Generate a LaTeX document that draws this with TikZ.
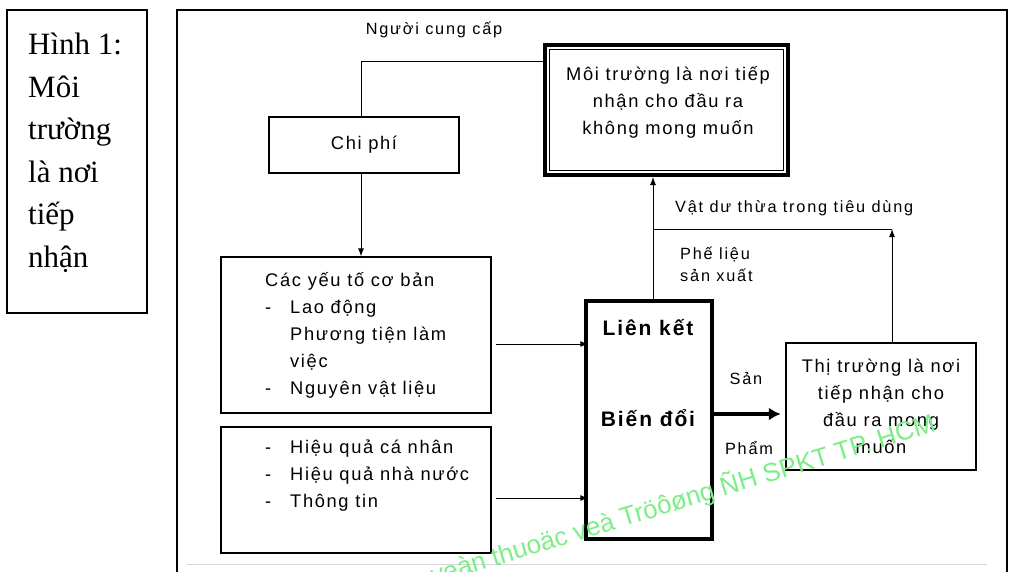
\documentclass[tikz,border=0pt]{standalone}
\usepackage{fontspec}
\setmainfont{Liberation Sans}
\newfontfamily\dfont[LetterSpace=9]{Liberation Sans}
\newfontfamily\lfont[LetterSpace=11]{Liberation Sans}
\newfontfamily\serfont{Liberation Serif}
\usetikzlibrary{arrows.meta,calc}
\definecolor{wmgreen}{RGB}{125,238,135}
\definecolor{rulegray}{RGB}{215,215,215}
\newcommand\dashmk{\makebox[25pt][l]{-}}
\newcommand\nodashmk{\hspace*{25pt}}
\begin{document}
\begin{tikzpicture}[x=1pt,y=-1pt,
  box/.style={draw, line width=1.3pt, inner sep=0pt},
  txt/.style={font=\dfont\fontsize{18.3}{27}\selectfont, inner sep=0pt, align=center},
  boldtxt/.style={font=\dfont\bfseries\fontsize{21}{24}\selectfont, inner sep=0pt},
  lbl/.style={font=\lfont\fontsize{16.3}{22}\selectfont, inner sep=0pt},
  conn/.style={line width=1pt},
  arr/.style={conn, -{Latex[length=8pt,width=6pt]}},
  bigarr/.style={line width=3.2pt, -{Latex[length=12pt,width=13pt]}},
  wm/.style={font=\fontsize{26}{30}\selectfont, text=wmgreen, inner sep=0pt}]
\useasboundingbox (0,0) rectangle (1012,571);
\fill[white] (0,0) rectangle (1012,571);

% left caption box
\node[box, minimum width=140pt, minimum height=303pt] (hinh) at (77,161.5) {};
\node[anchor=north west, inner sep=0pt, align=left,
      font=\serfont\fontsize{31}{42.5}\selectfont] (hinhtxt) at (28,33)
  {Hình 1:\\Môi\\trường\\là nơi\\tiếp\\nhận};

% outer frame
\draw[line width=1.5pt] (177,575) -- (177,10) -- (1007,10) -- (1007,575);
\draw[rulegray, line width=1pt] (187,564) -- (987,564);

% environment box (double border)
\node[draw, line width=4pt, minimum width=243pt, minimum height=130pt, inner sep=0pt] (env) at (666.5,110) {};
\draw[line width=1.5pt] ([shift={(6.5,6.5)}]env.north west) rectangle ([shift={(-6.5,-6.5)}]env.south east);
\node[txt] (envtxt) at (668,102) {Môi trường là nơi tiếp\\nhận cho đầu ra\\không mong muốn};

% cost box
\node[box, txt, minimum width=190pt, minimum height=56pt] (chiphi) at (364,145) {Chi phí};

% basic factors
\node[box, minimum width=270pt, minimum height=156pt] (yeuto) at (356,335) {};
\node[txt, align=left, anchor=west] (yeutotxt) at (265,335)
  {Các yếu tố cơ bản\\\dashmk Lao động\\\nodashmk Phương tiện làm\\\nodashmk việc\\\dashmk Nguyên vật liệu};

% efficiency box
\node[box, minimum width=270pt, minimum height=126pt] (hieu) at (356,490) {};
\node[txt, align=left, anchor=west] (hieutxt) at (265,476)
  {\dashmk Hiệu quả cá nhân\\\dashmk Hiệu quả nhà nước\\\dashmk Thông tin};

% link / transform box
\node[draw, line width=3.5pt, minimum width=126pt, minimum height=238pt, inner sep=0pt] (lk) at (649,420) {};
\node[boldtxt] (lk1) at (648,328) {Liên kết};
\node[boldtxt] (lk2) at (648,418) {Biến đổi};

% market box
\node[draw, line width=2.5pt, txt, minimum width=190pt, minimum height=127pt] (tt) at (881,406.5)
  {Thị trường là nơi\\tiếp nhận cho\\đầu ra mong\\muốn};

% labels
\node[lbl] (ncclbl) at (434,30) {Người cung cấp};
\node[lbl, anchor=west] (vdt) at (675,208) {Vật dư thừa trong tiêu dùng};
\node[lbl, anchor=west, align=left] (phelieu) at (680,264) {Phế liệu\\sản xuất};
\node[lbl] (san) at (746,378) {Sản};
\node[lbl] (pham) at (749,448) {Phẩm};

% connectors
\coordinate (ncc) at (361,61);
\coordinate (k) at (653,229);
\coordinate (j) at (892,229);
\draw[conn] (chiphi.north -| ncc) |- (env.west |- ncc);
\draw[arr] (chiphi.south -| ncc) -- (yeuto.north -| ncc);
\draw[arr] ([shift={(4,9)}]yeuto.east) -- ([shift={(4,9)}]yeuto.east -| lk.west);
\draw[arr] ([shift={(4,8)}]hieu.east) -- ([shift={(4,8)}]hieu.east -| lk.west);
\draw[arr] (lk.north -| k) -- (env.south -| k);
\draw[conn] (k) -- (j);
\draw[arr] (tt.north -| j) -- (j);
\draw[bigarr, shorten >=4pt] ([shift={(0,-6)}]lk.east) -- ([shift={(0,-6)}]lk.east -| tt.west);

% watermark
\begin{scope}
\clip (0,0) rectangle (1012,571);
\node[wm, anchor=base east, rotate=17] (wm) at (937,431) {quyeàn thuoäc veà Tröôøng ÑH SPKT TP. HCM};
\end{scope}
\end{tikzpicture}
\end{document}
